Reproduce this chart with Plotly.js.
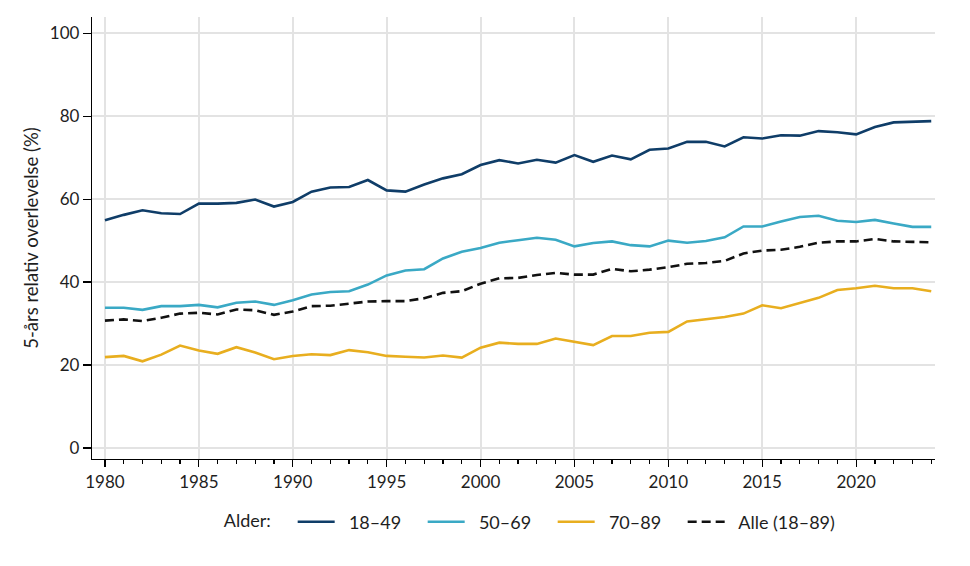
<!DOCTYPE html>
<html>
<head>
<meta charset="utf-8">
<script src="https://cdn.plot.ly/plotly-3.0.1.min.js"></script>
<style>html,body{margin:0;padding:0;background:#fff;}#chart{width:970px;height:566px;}</style>
</head>
<body>
<div id="chart"></div>
<script>
const years = [1980,1981,1982,1983,1984,1985,1986,1987,1988,1989,1990,1991,1992,1993,1994,1995,1996,1997,1998,1999,2000,2001,2002,2003,2004,2005,2006,2007,2008,2009,2010,2011,2012,2013,2014,2015,2016,2017,2018,2019,2020,2021,2022,2023,2024];
const age18_49 = [54.9,56.2,57.3,56.6,56.4,58.9,58.9,59.1,59.9,58.2,59.3,61.8,62.8,62.9,64.6,62.1,61.8,63.5,65.0,66.0,68.2,69.4,68.6,69.5,68.8,70.6,69.0,70.5,69.6,71.9,72.2,73.8,73.8,72.7,74.9,74.6,75.4,75.3,76.4,76.1,75.6,77.4,78.5,78.6,78.8];
const age50_69 = [33.8,33.8,33.3,34.2,34.2,34.5,33.9,35.0,35.3,34.5,35.6,37.0,37.6,37.8,39.4,41.6,42.8,43.1,45.7,47.3,48.2,49.5,50.1,50.7,50.2,48.6,49.4,49.8,48.9,48.6,50.0,49.5,49.9,50.8,53.4,53.4,54.6,55.7,56.0,54.8,54.5,55.0,54.1,53.3,53.3];
const age70_89 = [21.9,22.2,20.9,22.5,24.7,23.5,22.7,24.3,23.0,21.4,22.2,22.6,22.4,23.6,23.1,22.2,22.0,21.8,22.3,21.8,24.2,25.4,25.1,25.1,26.4,25.6,24.8,27.0,27.0,27.8,28.0,30.5,31.1,31.6,32.4,34.4,33.7,34.9,36.2,38.1,38.5,39.1,38.5,38.5,37.8];
const ageAll = [30.7,31.0,30.6,31.4,32.4,32.6,32.2,33.4,33.2,32.1,32.9,34.2,34.3,34.8,35.3,35.4,35.4,36.1,37.4,37.8,39.6,40.9,41.0,41.7,42.2,41.8,41.8,43.2,42.6,43.0,43.6,44.4,44.6,45.1,46.9,47.6,47.8,48.5,49.5,49.8,49.8,50.4,49.8,49.7,49.6];
const seriesNames = ['18–49','50–69','70–89','Alle (18–89)'];
const legendTitle = 'Alder:';
const yTitle = '5-års relativ overlevelse (%)';
const xTicks = [1980,1985,1990,1995,2000,2005,2010,2015,2020];
const yTicks = [0,20,40,60,80,100];

const FONT = 'Lato, "Open Sans", sans-serif';
const TXT = '#1e1e1e';
const LEAD = '\u00a0\u00a0';
const traces = [
  {x: years, y: age18_49, name: LEAD + seriesNames[0], mode: 'lines', line: {color: '#0f3d68', width: 2.6}},
  {x: years, y: age50_69, name: LEAD + seriesNames[1], mode: 'lines', line: {color: '#3aa9c5', width: 2.6}},
  {x: years, y: age70_89, name: LEAD + seriesNames[2], mode: 'lines', line: {color: '#e8ae1f', width: 2.6}},
  {x: years, y: ageAll, name: LEAD + seriesNames[3], mode: 'lines', line: {color: '#111111', width: 2.6, dash: '9px,5px'}},
  // invisible legend spacer so the last legend label is not clipped
  {x: [years[0]], y: [null], name: '\u00a0', mode: 'lines', line: {color: 'rgba(0,0,0,0)', width: 0}, hoverinfo: 'skip'}
];
const layout = {
  width: 970, height: 566,
  margin: {l: 92, r: 35, t: 17, b: 107},
  paper_bgcolor: '#fff', plot_bgcolor: '#fff',
  font: {family: FONT, size: 17, color: TXT},
  showlegend: true,
  xaxis: {
    range: [1979.31, 2024.2], tickvals: xTicks, ticktext: xTicks.map(String),
    showgrid: true, gridcolor: '#e3e3e3', gridwidth: 2,
    showline: true, linecolor: '#000', linewidth: 1.2,
    ticks: 'outside', ticklen: 7, tickcolor: '#000', tickwidth: 1.2,
    minor: {tickmode: 'linear', tick0: 1980, dtick: 1, ticks: 'outside', ticklen: 4, tickcolor: '#000', tickwidth: 1.2, showgrid: false},
    zeroline: false, tickfont: {size: 17, family: FONT, color: TXT}
  },
  yaxis: {
    range: [-2.65, 103.9], tickvals: yTicks, ticktext: yTicks.map(String),
    showgrid: true, gridcolor: '#e3e3e3', gridwidth: 2,
    showline: true, linecolor: '#000', linewidth: 1.2,
    ticks: 'outside', ticklen: 8, tickcolor: '#000', tickwidth: 1.2,
    zeroline: false, tickfont: {size: 17, family: FONT, color: TXT},
    title: {text: yTitle, font: {size: 18.5, family: FONT, color: TXT}, standoff: 6}
  },
  legend: {
    orientation: 'h', x: 0.154, xanchor: 'left', y: -0.1425, yanchor: 'middle',
    title: {text: legendTitle + '\u00a0\u00a0\u00a0', side: 'left', font: {size: 18, family: FONT, color: TXT}},
    font: {size: 18, family: FONT, color: TXT},
    itemwidth: 37, entrywidth: 78, bgcolor: 'rgba(0,0,0,0)'
  }
};
Plotly.newPlot('chart', traces, layout, {displayModeBar: false, staticPlot: true});
</script>
</body>
</html>
